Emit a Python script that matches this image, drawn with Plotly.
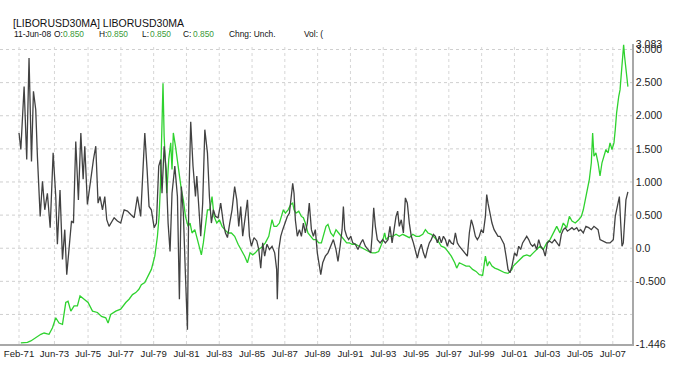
import plotly.graph_objects as go

# ---------------- data ----------------
black_years = [
    1971.29, 1971.40, 1971.60, 1971.76, 1971.90, 1972.05, 1972.17, 1972.31, 1972.41, 1972.58,
    1972.72, 1972.86, 1973.02, 1973.19, 1973.37, 1973.53, 1973.63, 1973.79, 1973.94, 1974.08,
    1974.20, 1974.34, 1974.49, 1974.61, 1974.75, 1974.91, 1975.06, 1975.20, 1975.30, 1975.46,
    1975.66, 1975.83, 1975.97, 1976.11, 1976.23, 1976.38, 1976.52, 1976.64, 1976.78, 1976.92,
    1977.09, 1977.29, 1977.49, 1977.70, 1977.90, 1978.10, 1978.31, 1978.51, 1978.71, 1978.85,
    1978.96, 1979.10, 1979.22, 1979.36, 1979.53, 1979.67, 1979.81, 1979.93, 1980.01, 1980.14,
    1980.26, 1980.38, 1980.50, 1980.62, 1980.79, 1980.95, 1981.07, 1981.19, 1981.31, 1981.44,
    1981.56, 1981.64, 1981.76, 1981.90, 1982.05, 1982.13, 1982.25, 1982.37, 1982.49, 1982.62,
    1982.78, 1982.90, 1983.02, 1983.14, 1983.27, 1983.43, 1983.59, 1983.75, 1983.88, 1984.00,
    1984.14, 1984.28, 1984.44, 1984.57, 1984.69, 1984.81, 1984.93, 1985.05, 1985.22, 1985.34,
    1985.46, 1985.62, 1985.79, 1985.91, 1986.03, 1986.15, 1986.27, 1986.41, 1986.56, 1986.72,
    1986.88, 1987.00, 1987.04, 1987.13, 1987.25, 1987.37, 1987.49, 1987.65, 1987.78, 1987.90,
    1987.98, 1988.06, 1988.14, 1988.26, 1988.39, 1988.51, 1988.63, 1988.75, 1988.87, 1988.99,
    1989.12, 1989.24, 1989.36, 1989.48, 1989.61, 1989.69, 1989.81, 1989.97, 1990.13, 1990.30,
    1990.46, 1990.62, 1990.74, 1990.87, 1990.99, 1991.07, 1991.15, 1991.27, 1991.39, 1991.52,
    1991.64, 1991.80, 1991.96, 1992.13, 1992.25, 1992.41, 1992.57, 1992.74, 1992.82, 1992.92,
    1993.02, 1993.14, 1993.31, 1993.47, 1993.63, 1993.79, 1993.91, 1994.04, 1994.16, 1994.28,
    1994.38, 1994.48, 1994.60, 1994.73, 1994.85, 1994.97, 1995.09, 1995.21, 1995.34, 1995.46,
    1995.58, 1995.70, 1995.82, 1995.95, 1996.07, 1996.19, 1996.31, 1996.43, 1996.56, 1996.68,
    1996.80, 1996.92, 1997.04, 1997.17, 1997.29, 1997.41, 1997.53, 1997.65, 1997.78, 1997.90,
    1998.02, 1998.14, 1998.30, 1998.47, 1998.63, 1998.75, 1998.87, 1998.99, 1999.12, 1999.24,
    1999.36, 1999.48, 1999.60, 1999.73, 1999.81, 1999.89, 2000.01, 2000.13, 2000.26, 2000.38,
    2000.50, 2000.62, 2000.74, 2000.87, 2000.99, 2001.11, 2001.23, 2001.35, 2001.51, 2001.64,
    2001.76, 2001.88, 2002.00, 2002.12, 2002.25, 2002.37, 2002.49, 2002.61, 2002.73, 2002.86,
    2002.98, 2003.10, 2003.26, 2003.38, 2003.51, 2003.63, 2003.79, 2003.95, 2004.08, 2004.24,
    2004.36, 2004.48, 2004.60, 2004.73, 2004.85, 2005.01, 2005.13, 2005.30, 2005.42, 2005.54,
    2005.70, 2005.86, 2006.03, 2006.19, 2006.35, 2006.47, 2006.60, 2006.72, 2006.88, 2007.12,
    2007.33, 2007.53, 2007.65, 2007.77, 2007.90, 2007.98, 2008.06, 2008.14, 2008.22, 2008.30,
    2008.42,
]
black_values = [
    1.74, 1.49, 2.44, 1.34, 2.87, 1.31, 2.37, 2.09, 1.39, 0.48,
    1.01, 0.58, 0.83, 0.31, 1.44, 0.78, 0.06, 0.88, -0.17, 0.28,
    -0.40, -0.02, 0.41, 0.38, 1.61, 0.73, 1.74, 1.04, 1.54, 0.66,
    1.04, 1.34, 1.54, 0.68, 0.78, 0.58, 0.78, 0.43, 0.33, 0.38,
    0.46, 0.41, 0.38, 0.58, 0.56, 0.51, 0.46, 0.78, 0.48, 1.19,
    1.74, 1.19, 0.63, 0.58, 0.31, 0.38, 1.24, 1.34, 0.83, 1.54,
    1.19, 0.38, -0.05, 0.83, 1.24, 0.78, -0.77, 0.93, 0.53, -0.42,
    -1.23, 0.68, 1.91, 1.24, 0.78, 1.09, 0.58, 0.18, 0.68, 1.79,
    1.44, 0.78, 0.38, 0.58, 0.48, 0.46, 0.68, 0.38, 0.23, 0.16,
    0.38, 0.58, 0.93, 0.73, 0.33, 0.63, 0.18, 0.38, 0.73, 0.18,
    0.03, 0.16, 0.11, -0.02, -0.30, 0.08, -0.12, 0.06, -0.02, 0.03,
    -0.07, -0.32, -0.77, -0.02, 0.18, 0.28, 0.38, 0.48, 0.53, 0.83,
    0.98, 0.83, 0.43, 0.18, 0.28, 0.18, 0.38, 0.23, 0.38, 0.68,
    0.28, 0.18, 0.28, -0.07, -0.32, -0.40, -0.22, -0.12, -0.07, 0.03,
    0.13, -0.02, -0.20, 0.03, 0.28, 0.63, 0.28, 0.18, 0.13, 0.18,
    0.08, 0.06, -0.02, 0.08, 0.13, 0.03, -0.02, -0.07, 0.18, 0.61,
    0.33, 0.13, 0.08, 0.13, 0.08, 0.13, 0.33, 0.08, 0.28, 0.48,
    0.56, 0.33, 0.43, 0.23, 0.76, 0.68, 0.38, 0.18, 0.08, -0.02,
    -0.15, -0.02, 0.06, -0.07, -0.15, -0.02, 0.08, 0.13, 0.21, 0.18,
    0.08, 0.18, 0.08, 0.18, 0.13, 0.03, 0.13, 0.08, 0.06, 0.23,
    0.08, 0.03, -0.02, -0.07, -0.12, 0.23, 0.43, 0.33, 0.18, 0.13,
    0.18, 0.28, 0.23, 0.48, 0.81, 0.68, 0.53, 0.38, 0.28, 0.23,
    0.18, 0.18, 0.13, 0.06, -0.12, -0.32, -0.37, -0.27, -0.07, -0.12,
    0.03, -0.02, 0.08, 0.13, 0.18, 0.13, 0.06, 0.03, 0.06, -0.02,
    0.13, 0.03, -0.02, -0.12, 0.08, 0.11, 0.08, 0.13, 0.08, 0.03,
    0.21, 0.28, 0.31, 0.26, 0.28, 0.31, 0.28, 0.31, 0.26, 0.28,
    0.23, 0.33, 0.31, 0.28, 0.33, 0.31, 0.28, 0.13, 0.11, 0.08,
    0.08, 0.13, 0.48, 0.63, 0.78, 0.38, 0.03, 0.08, 0.38, 0.73,
    0.85,
]

green_years = [
    1971.40, 1971.80, 1972.01, 1972.31, 1972.62, 1972.82, 1973.12, 1973.33, 1973.53, 1973.73,
    1973.94, 1974.14, 1974.28, 1974.45, 1974.65, 1974.85, 1975.01, 1975.26, 1975.50, 1975.77,
    1976.07, 1976.32, 1976.58, 1976.72, 1976.88, 1977.19, 1977.49, 1977.80, 1978.00, 1978.21,
    1978.41, 1978.60, 1978.75, 1978.96, 1979.16, 1979.36, 1979.57, 1979.73, 1979.83, 1979.91,
    1980.01, 1980.07, 1980.14, 1980.22, 1980.30, 1980.42, 1980.54, 1980.62, 1980.70, 1980.83,
    1980.95, 1981.07, 1981.19, 1981.31, 1981.44, 1981.60, 1981.72, 1981.84, 1982.01, 1982.17,
    1982.31, 1982.41, 1982.53, 1982.66, 1982.78, 1982.92, 1983.06, 1983.18, 1983.35, 1983.51,
    1983.67, 1983.83, 1984.04, 1984.24, 1984.44, 1984.65, 1984.85, 1985.05, 1985.22, 1985.38,
    1985.54, 1985.70, 1985.87, 1986.07, 1986.31, 1986.52, 1986.72, 1986.84, 1987.00, 1987.17,
    1987.29, 1987.41, 1987.53, 1987.70, 1987.86, 1987.98, 1988.06, 1988.18, 1988.35, 1988.51,
    1988.63, 1988.75, 1988.91, 1989.08, 1989.24, 1989.40, 1989.57, 1989.73, 1989.89, 1990.01,
    1990.13, 1990.30, 1990.46, 1990.62, 1990.78, 1990.95, 1991.11, 1991.27, 1991.44, 1991.60,
    1991.80, 1992.00, 1992.21, 1992.41, 1992.61, 1992.82, 1993.02, 1993.22, 1993.43, 1993.59,
    1993.67, 1993.87, 1994.08, 1994.28, 1994.48, 1994.69, 1994.89, 1995.09, 1995.30, 1995.50,
    1995.70, 1995.91, 1996.07, 1996.23, 1996.43, 1996.64, 1996.84, 1997.04, 1997.25, 1997.45,
    1997.65, 1997.86, 1997.98, 1998.14, 1998.35, 1998.55, 1998.75, 1998.95, 1999.16, 1999.36,
    1999.56, 1999.73, 1999.85, 1999.97, 2000.13, 2000.30, 2000.50, 2000.70, 2000.91, 2001.11,
    2001.35, 2001.43, 2001.64, 2001.84, 2002.04, 2002.25, 2002.45, 2002.65, 2002.86, 2003.06,
    2003.26, 2003.47, 2003.67, 2003.87, 2004.08, 2004.28, 2004.48, 2004.69, 2004.85, 2005.01,
    2005.21, 2005.42, 2005.58, 2005.70, 2005.82, 2005.95, 2006.07, 2006.19, 2006.27, 2006.35,
    2006.47, 2006.60, 2006.72, 2006.84, 2006.96, 2007.08, 2007.21, 2007.33, 2007.45, 2007.57,
    2007.65, 2007.73, 2007.86, 2007.94, 2008.02, 2008.10, 2008.16, 2008.22, 2008.30, 2008.38,
    2008.42,
]
green_values = [
    -1.43, -1.42, -1.40, -1.35, -1.30, -1.28, -1.30, -1.20, -1.05, -1.13,
    -1.15, -0.82, -0.80, -0.95, -0.87, -0.87, -0.72, -0.77, -0.82, -0.95,
    -0.97, -1.03, -1.05, -1.13, -1.00, -0.95, -0.92, -0.82, -0.77, -0.70,
    -0.67, -0.62, -0.55, -0.52, -0.42, -0.32, -0.12, 0.18, 0.48, 0.93,
    1.89, 2.49, 1.69, 1.09, 0.83, 1.34, 1.59, 1.19, 1.74, 1.54,
    1.29, 1.09, 0.88, 0.73, 0.48, 0.33, 0.38, 0.23, 0.28, 0.13,
    -0.02, -0.10, 0.08, 0.38, 0.58, 0.58, 0.78, 0.48, 0.38, 0.43,
    0.33, 0.28, 0.23, 0.23, 0.18, 0.06, -0.02, -0.12, -0.22, -0.07,
    -0.10, -0.07, -0.02, 0.01, 0.08, 0.18, 0.43, 0.33, 0.33, 0.38,
    0.48, 0.58, 0.53, 0.58, 0.66, 0.68, 0.58, 0.53, 0.56, 0.48,
    0.46, 0.38, 0.23, 0.18, 0.13, 0.13, 0.08, 0.08, 0.23, 0.33,
    0.36, 0.23, 0.18, 0.28, 0.23, 0.18, 0.13, 0.08, 0.08, 0.06,
    0.06, 0.03, 0.01, -0.02, -0.05, -0.07, -0.07, -0.05, 0.08, 0.23,
    0.13, 0.18, 0.18, 0.21, 0.18, 0.21, 0.18, 0.16, 0.21, 0.18,
    0.18, 0.21, 0.28, 0.23, 0.21, 0.16, 0.11, 0.03, 0.01, -0.05,
    -0.12, -0.22, -0.30, -0.22, -0.25, -0.27, -0.27, -0.32, -0.35, -0.40,
    -0.41, -0.12, -0.27, -0.20, -0.27, -0.30, -0.32, -0.35, -0.37, -0.38,
    -0.32, -0.27, -0.22, -0.17, -0.12, -0.10, -0.12, -0.07, -0.02, 0.03,
    -0.02, 0.08, 0.13, 0.23, 0.33, 0.23, 0.38, 0.31, 0.48, 0.41,
    0.38, 0.43, 0.48, 0.58, 0.73, 0.93, 1.04, 1.29, 1.74, 1.39,
    1.44, 1.29, 1.09, 1.29, 1.39, 1.49, 1.44, 1.59, 1.49, 1.59,
    1.79, 2.04, 2.29, 2.39, 2.64, 2.99, 3.07, 2.89, 2.69, 2.59,
    2.44,
]

x_tick_vals = [1971.29, 1973.45, 1975.5, 1977.5, 1979.5, 1981.5, 1983.5, 1985.5, 1987.5,
               1989.5, 1991.5, 1993.5, 1995.5, 1997.5, 1999.5, 2001.5, 2003.5, 2005.5, 2007.5]
x_tick_text = ["Feb-71", "Jun-73", "Jul-75", "Jul-77", "Jul-79", "Jul-81", "Jul-83", "Jul-85",
               "Jul-87", "Jul-89", "Jul-91", "Jul-93", "Jul-95", "Jul-97", "Jul-99", "Jul-01",
               "Jul-03", "Jul-05", "Jul-07"]
y_tick_vals = [-1.446, -0.5, 0.0, 0.5, 1.0, 1.5, 2.0, 2.5, 3.0, 3.083]
y_tick_text = ["-1.446", "-0.500", "0.0", "0.500", "1.000", "1.500", "2.000", "2.500", "3.000", "3.083"]
y_grid_vals = [-1.0, -0.5, 0.0, 0.5, 1.0, 1.5, 2.0, 2.5, 3.0]
x_range = [1970.13, 2008.67]
y_range = [-1.446, 3.083]

title_line = "[LIBORUSD30MA] LIBORUSD30MA"
info_parts = [("11-Jun-08", "k"), ("O:", "k"), ("0.850", "g"), ("H:", "k"), ("0.850", "g"),
              ("L:", "k"), ("0.850", "g"), ("C:", "k"), ("0.850", "g"), ("Chng: Unch.", "k"),
              ("Vol: (", "k")]

assert len(black_years) == len(black_values)
assert len(green_years) == len(green_values)

# ---------------- layout geometry ----------------
W, H = 680, 372
ML, MR, MT, MB = 0, 48, 44, 28
PW, PH = W - ML - MR, H - MT - MB


def px(x):
    return (x - ML) / PW


def py(y):
    return (H - MB - y) / PH


info_x = [12, 51.5, 61, 96.5, 105, 140, 148, 181.5, 190.5, 226.5, 301.5]

fig = go.Figure()
fig.add_trace(go.Scatter(x=green_years, y=green_values, mode="lines",
                         line=dict(color="#2fd22f", width=1.3), hoverinfo="skip"))
fig.add_trace(go.Scatter(x=black_years, y=black_values, mode="lines",
                         line=dict(color="#424242", width=1.3), hoverinfo="skip"))

shapes = []
for gy in y_grid_vals:
    shapes.append(dict(type="line", xref="paper", yref="y", x0=0, x1=1, y0=gy, y1=gy,
                       line=dict(color="#cfcfcf", width=1, dash="dot"), layer="below"))
for gx in x_tick_vals:
    shapes.append(dict(type="line", xref="x", yref="paper", x0=gx, x1=gx, y0=0, y1=1,
                       line=dict(color="#d6d6d6", width=1, dash="dot"), layer="below"))

annotations = [dict(text=title_line, xref="paper", yref="paper", x=px(11), y=py(23),
                    xanchor="left", yanchor="middle", showarrow=False,
                    font=dict(family="Liberation Sans, Arial", size=10.5, color="#111111"))]
for (txt, col), xx in zip(info_parts, info_x):
    annotations.append(dict(text=txt, xref="paper", yref="paper", x=px(xx), y=py(34),
                            xanchor="left", yanchor="middle", showarrow=False,
                            font=dict(family="Liberation Sans, Arial", size=8.4,
                                      color="#3a9a3a" if col == "g" else "#111111")))

fig.update_layout(
    width=W, height=H,
    margin=dict(l=ML, r=MR, t=MT, b=MB),
    paper_bgcolor="white", plot_bgcolor="white",
    showlegend=False,
    shapes=shapes,
    annotations=annotations,
    xaxis=dict(range=x_range, tickmode="array", tickvals=x_tick_vals, ticktext=x_tick_text,
               showgrid=False, zeroline=False, showline=True, linecolor="#a8a8a8", linewidth=1.5,
               ticks="", tickfont=dict(family="Liberation Sans, Arial", size=9.6, color="#222222"),
               fixedrange=True),
    yaxis=dict(range=y_range, side="right", tickmode="array", tickvals=y_tick_vals,
               ticktext=y_tick_text, showgrid=False, zeroline=False, showline=True,
               linecolor="#a8a8a8", linewidth=1.5, ticks="",
               tickfont=dict(family="Liberation Sans, Arial", size=10.5, color="#222222"),
               fixedrange=True),
)

fig.write_html("out.html", config={"displayModeBar": False},
               post_script="document.body.style.margin='0';document.body.style.overflow='hidden';")
